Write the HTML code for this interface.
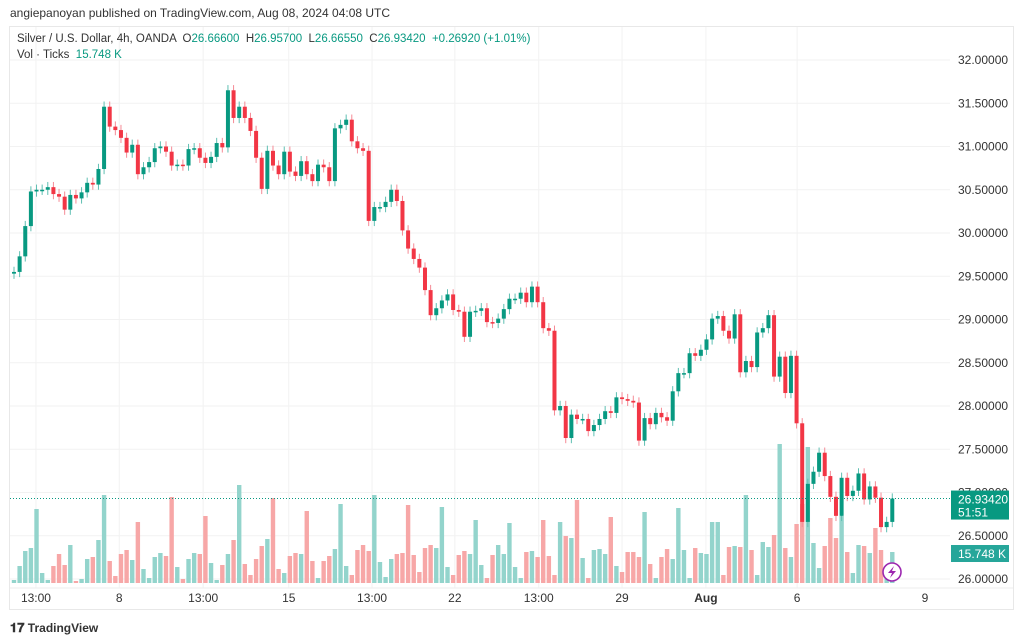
<!DOCTYPE html>
<html><head><meta charset="utf-8"><style>
body{margin:0;width:1024px;height:643px;background:#fff;font-family:"Liberation Sans",sans-serif;overflow:hidden;position:relative}
.t{position:absolute;white-space:nowrap}
</style></head><body>
<div class="t" style="left:10px;top:6px;font-size:12px;color:#333">angiepanoyan published on TradingView.com, Aug 08, 2024 04:08 UTC</div>
<div style="position:absolute;left:9px;top:26px;width:1005px;height:584px;border:1px solid #e8e8e8;box-sizing:border-box"></div>
<svg id="ch" width="1024" height="643" style="position:absolute;left:0;top:0"></svg>
<div class="t" style="left:17px;top:33px;font-size:11.5px;color:#333">Silver / U.S. Dollar, 4h, OANDA &nbsp;O<span style="color:#089981">26.66600</span> &nbsp;H<span style="color:#089981">26.95700</span> &nbsp;L<span style="color:#089981">26.66550</span> &nbsp;C<span style="color:#089981">26.93420</span> &nbsp;<span style="color:#089981">+0.26920 (+1.01%)</span></div>
<div class="t" style="left:17px;top:49px;font-size:11.5px;color:#333">Vol · Ticks &nbsp;<span style="color:#089981">15.748 K</span></div>
<div class="t" style="left:10px;top:620px;font-size:12px;color:#333;font-weight:bold"><span style="font-size:13px">𝟏𝟕</span> TradingView</div>
<script>
const closes=[29.55,29.73,30.08,30.48,30.50,30.50,30.53,30.45,30.42,30.27,30.44,30.40,30.47,30.58,30.56,30.74,31.46,31.23,31.19,31.10,30.93,31.02,30.68,30.76,30.82,30.98,31.00,30.94,30.78,30.79,30.78,30.97,30.98,30.87,30.81,30.88,31.04,30.99,31.65,31.33,31.46,31.33,31.18,30.87,30.51,30.95,30.78,30.68,30.94,30.71,30.66,30.83,30.68,30.60,30.79,30.76,30.60,31.21,31.25,31.31,31.06,30.98,30.95,30.14,30.30,30.30,30.36,30.50,30.37,30.03,29.82,29.70,29.60,29.34,29.05,29.13,29.22,29.29,29.11,29.09,28.80,29.09,29.10,29.13,28.97,28.96,29.01,29.12,29.24,29.24,29.31,29.20,29.38,29.20,28.90,28.87,27.95,28.00,27.63,27.90,27.85,27.85,27.71,27.78,27.85,27.94,27.92,28.10,28.08,28.06,28.04,27.60,27.86,27.79,27.92,27.87,27.83,28.17,28.38,28.38,28.61,28.58,28.65,28.77,29.01,29.04,28.87,28.78,29.06,28.39,28.52,28.45,28.85,28.90,29.05,28.34,28.57,28.15,28.58,27.80,26.66,27.10,27.24,27.46,27.19,26.95,26.73,27.17,26.96,27.02,27.22,26.92,27.07,26.94,26.60,26.66,26.93];
const volumes=[3,17,32,35,74,10,3,17,29,18,38,2,4,24,26,43,88,22,7,29,33,23,61,14,5,26,30,27,86,16,4,24,30,29,67,20,3,18,29,43,98,19,8,24,37,44,85,14,10,27,30,29,72,22,5,22,27,34,79,17,8,33,38,32,88,21,6,24,29,30,78,28,11,35,38,35,76,16,8,28,32,29,63,18,5,28,38,29,60,16,5,31,32,26,63,27,8,61,47,45,83,25,5,33,34,29,66,17,11,31,31,26,71,19,5,26,34,24,75,33,5,35,30,29,61,61,8,36,37,36,88,33,8,41,36,48,139,35,26,59,79,136,40,15,37,65,45,67,31,10,38,37,30,55,33,12,31];
const priceTicks=[32,31.5,31,30.5,30,29.5,29,28.5,28,27.5,27,26.5,26];
const timeLabels=["13:00","8","13:00","15","13:00","22","13:00","29","Aug","6","9"];
const timeLabelPos=[3.9,18.7,33.6,48.8,63.6,78.3,93.2,108,122.9,139.1,161.8];
const wick=0.06;
const NS="http://www.w3.org/2000/svg",svg=document.getElementById('ch');
const y=p=>60+(32-p)*86.5;
const x=i=>14+i*5.63;
const vy=v=>583-v;
function mk(t,a,p){const e=document.createElementNS(NS,t);for(const k in a)e.setAttribute(k,a[k]);(p||svg).appendChild(e);return e;}
priceTicks.forEach(p=>{const l=mk('line',{x1:10,x2:950,y1:y(p),y2:y(p),stroke:'#f2f2f2'});

const t=mk('text',{x:958,y:y(p)+4,'font-size':12,fill:'#333','font-family':'Liberation Sans'});t.textContent=p.toFixed(5);
});
timeLabels.forEach((s,k)=>{const xx=x(timeLabelPos[k]);
if(k<10){const l=mk('line',{x1:xx,x2:xx,y1:27,y2:588,stroke:'#f2f2f2'});}
const t=mk('text',{x:xx,y:602,'font-size':12,fill:'#333','text-anchor':'middle','font-family':'Liberation Sans','font-weight':s=='Aug'?'bold':'normal'});t.textContent=s;
});
volumes.forEach((v,i)=>{const up=i==0?true:closes[i]>=closes[i-1];
const r=mk('rect',{x:x(i)-2.2,y:vy(v),width:4.4,height:v,fill:up?'#93d4cc':'#f7a7a7'});
});
closes.forEach((c,i)=>{const o=i==0?c-0.02:closes[i-1];const up=c>=o;const col=up?'#089981':'#f23645';
const hi=Math.max(o,c)+wick,lo=Math.min(o,c)-wick;
const w=mk('line',{x1:x(i),x2:x(i),y1:y(hi),y2:y(lo),stroke:up?'#5fbfb2':'#f58a95','stroke-width':1});

const top=y(Math.max(o,c));const h=Math.max(1.5,y(Math.min(o,c))-top);
const b=mk('rect',{x:x(i)-2,y:top,width:4,height:h,fill:col});
});
const last=closes[closes.length-1];
const pl=mk('line',{x1:10,x2:950,y1:y(last),y2:y(last),stroke:'#089981','stroke-dasharray':'1 2'});

const bx=mk('rect',{x:951,y:y(last)-8,width:58,height:29,fill:'#089981'});

let t=mk('text',{x:958,y:y(last)+5,'font-size':12,fill:'#fff','font-family':'Liberation Sans'});t.textContent='26.93420';

t=mk('text',{x:958,y:y(last)+18,'font-size':12,fill:'#fff','font-family':'Liberation Sans'});t.textContent='51:51';

const vb=mk('rect',{x:951,y:545,width:58,height:17,fill:'#26a69a'});

t=mk('text',{x:958,y:558,'font-size':12,fill:'#fff','font-family':'Liberation Sans'});t.textContent='15.748 K';

const ax=mk('line',{x1:10,x2:1013,y1:588,y2:588,stroke:'#eee'});
const ic=mk('circle',{cx:892,cy:572,r:9,fill:'#fff',stroke:'#9c27b0','stroke-width':1.6});

const bolt=mk('path',{d:'M894 566 L888 573 L892 573 L890 578 L896 571 L892 571 Z',fill:'#9c27b0'});

</script>
</body></html>
